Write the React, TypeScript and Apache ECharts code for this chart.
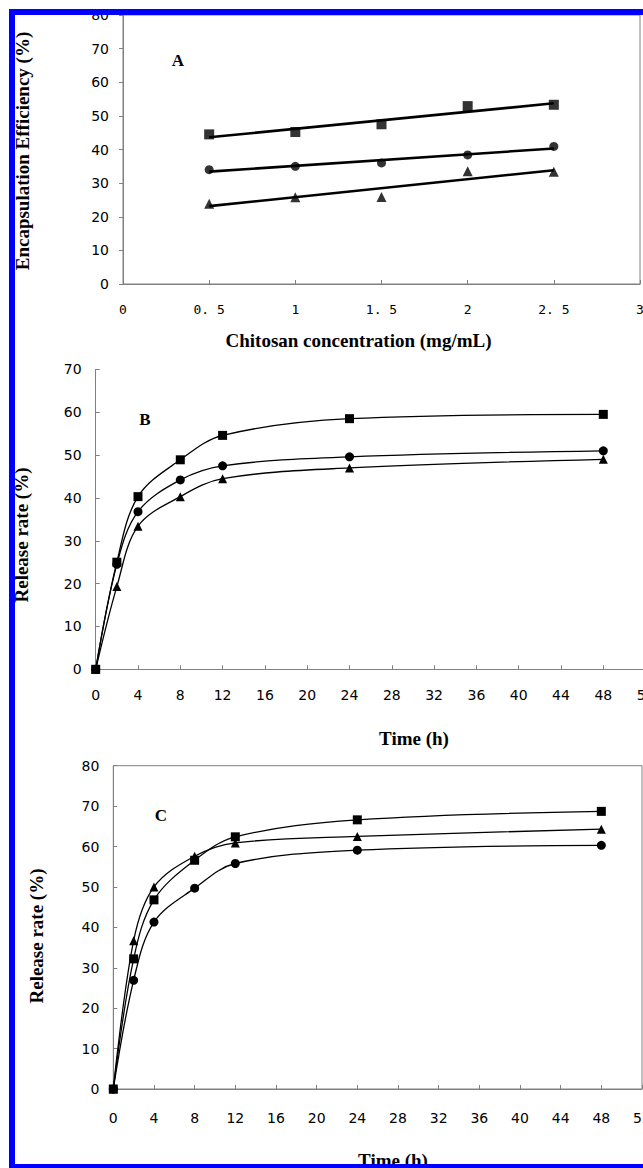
import React, { useEffect, useRef } from "react";
import * as echarts from "echarts";

// ---- Panel A: encapsulation efficiency vs chitosan concentration ----
const concentration = [0.5, 1, 1.5, 2, 2.5];
const effSquare = [44.5, 45.2, 47.5, 52.9, 53.3];
const effCircle = [34.0, 35.0, 36.0, 38.4, 40.9];
const effTriangle = [23.9, 25.8, 25.9, 33.5, 33.4];
const concTickLabels = ["0", "0. 5", "1", "1. 5", "2", "2. 5", "3"];

// ---- Panels B and C: release rate vs time ----
const timeH = [0, 2, 4, 8, 12, 24, 48];
const relBSquare = [0, 25.0, 40.3, 48.9, 54.6, 58.5, 59.5];
const relBCircle = [0, 24.5, 36.8, 44.2, 47.5, 49.6, 51.0];
const relBTriangle = [0, 19.3, 33.4, 40.3, 44.5, 47.0, 49.0];
const relCSquare = [0, 32.2, 46.8, 56.6, 62.4, 66.6, 68.7];
const relCTriangle = [0, 36.7, 50.0, 57.6, 60.9, 62.5, 64.3];
const relCCircle = [0, 26.9, 41.3, 49.7, 55.8, 59.1, 60.3];

const AXIS_GRAY = "#808080";
const TICK_FONT = "DejaVu Sans";
const SERIF = "Liberation Serif";

function zip(xs: number[], ys: number[]) {
  return xs.map((x, i) => [x, ys[i]]);
}

// least-squares trend line through the measured points (as in the source figure)
function trend(xs: number[], ys: number[]) {
  const n = xs.length;
  const mx = xs.reduce((a, b) => a + b, 0) / n;
  const my = ys.reduce((a, b) => a + b, 0) / n;
  let sxy = 0;
  let sxx = 0;
  for (let i = 0; i < n; i++) {
    sxy += (xs[i] - mx) * (ys[i] - my);
    sxx += (xs[i] - mx) * (xs[i] - mx);
  }
  const b = sxy / sxx;
  const a = my - b * mx;
  const x0 = xs[0];
  const x1 = xs[n - 1];
  return [
    [x0, a + b * x0],
    [x1, a + b * x1],
  ];
}

function valueAxisX(gridIndex: number, max: number, interval: number, margin: number, extra: any = {}) {
  return {
    type: "value",
    gridIndex,
    min: 0,
    max,
    interval,
    axisLine: { show: true, onZero: false, lineStyle: { color: AXIS_GRAY, width: 1 } },
    axisTick: { show: true, inside: true, length: 4, lineStyle: { color: AXIS_GRAY } },
    splitLine: { show: false },
    axisLabel: {
      margin,
      color: "#000",
      fontFamily: TICK_FONT,
      fontSize: 14,
      ...extra,
    },
  };
}

function valueAxisY(gridIndex: number, max: number, inside: boolean) {
  return {
    type: "value",
    gridIndex,
    min: 0,
    max,
    interval: 10,
    axisLine: { show: true, onZero: false, lineStyle: { color: AXIS_GRAY, width: 1 } },
    axisTick: { show: true, inside, length: 4, lineStyle: { color: AXIS_GRAY } },
    splitLine: { show: false },
    axisLabel: {
      margin: 14,
      color: "#000",
      fontFamily: TICK_FONT,
      fontSize: 14,
      padding: [7, 0, 0, 0],
    },
  };
}

function scatter(data: number[], symbol: string, size: number) {
  return {
    type: "scatter",
    xAxisIndex: 0,
    yAxisIndex: 0,
    symbol,
    symbolSize: size,
    itemStyle: { color: "#000" },
    data: zip(concentration, data),
    silent: true,
    z: 3,
  };
}

function trendLine(data: number[]) {
  return {
    type: "line",
    xAxisIndex: 0,
    yAxisIndex: 0,
    showSymbol: false,
    symbol: "none",
    lineStyle: { color: "#000", width: 2.6 },
    data: trend(concentration, data),
    silent: true,
    z: 2,
  };
}

function releaseLine(idx: number, data: number[], symbol: string, size: number) {
  return {
    type: "line",
    xAxisIndex: idx,
    yAxisIndex: idx,
    smooth: 0.35,
    symbol,
    symbolSize: size,
    showSymbol: true,
    lineStyle: { color: "#000", width: 1.3 },
    itemStyle: { color: "#000", borderWidth: 0 },
    data: zip(timeH, data),
    silent: true,
  };
}

function label(text: string, x: number, y: number, size: number, rotate = false) {
  return {
    type: "text",
    x,
    y,
    rotation: rotate ? Math.PI / 2 : 0,
    silent: true,
    style: {
      text,
      fill: "#000",
      fontFamily: SERIF,
      fontWeight: "bold",
      fontSize: size,
      align: "center",
      verticalAlign: "middle",
    },
  };
}

const option: any = {
  animation: false,
  backgroundColor: "#fff",
  grid: [
    { left: 123, top: 15, width: 517, height: 269, show: true, borderColor: AXIS_GRAY, borderWidth: 1, backgroundColor: "transparent", outerBoundsMode: "none", containLabel: false },
    { left: 95.7, top: 369.4, width: 549.9, height: 299.9, outerBoundsMode: "none", containLabel: false },
    { left: 113.3, top: 765.7, width: 528.7, height: 323.3, show: true, borderColor: AXIS_GRAY, borderWidth: 1, backgroundColor: "transparent", outerBoundsMode: "none", containLabel: false },
  ],
  xAxis: [
    valueAxisX(0, 3, 0.5, 19, {
      fontFamily: "DejaVu Sans Mono",
      fontSize: 13,
      formatter: (v: number) => concTickLabels[Math.round(v / 0.5)],
    }),
    valueAxisX(1, 52, 4, 19),
    valueAxisX(2, 52, 4, 22),
  ],
  yAxis: [
    valueAxisY(0, 80, false),
    valueAxisY(1, 70, true),
    valueAxisY(2, 80, true),
  ],
  series: [
    trendLine(effSquare),
    trendLine(effCircle),
    trendLine(effTriangle),
    scatter(effSquare, "rect", 10),
    scatter(effCircle, "circle", 9),
    scatter(effTriangle, "triangle", 10),

    releaseLine(1, relBCircle, "circle", 9),
    releaseLine(1, relBTriangle, "triangle", 9),
    releaseLine(1, relBSquare, "rect", 9),

    releaseLine(2, relCCircle, "circle", 9),
    releaseLine(2, relCSquare, "rect", 9),
    releaseLine(2, relCTriangle, "triangle", 9),
  ],
  graphic: [
    label("A", 178, 60, 17),
    label("B", 145, 419, 17),
    label("C", 161, 815, 17),
    label("Encapsulation Efficiency (%)", 22, 151, 19, true),
    label("Chitosan concentration (mg/mL)", 358.5, 340, 19),
    label("Release rate (%)", 21, 535, 19, true),
    label("Time (h)", 414, 738, 19),
    label("Release rate (%)", 36, 936, 19, true),
    label("Time (h)", 393, 1160, 19),
    // blue frame of the figure
    { type: "rect", z: 100, silent: true, shape: { x: 9, y: 9, width: 634, height: 6 }, style: { fill: "#0000ff" } },
    { type: "rect", z: 100, silent: true, shape: { x: 9, y: 9, width: 6, height: 1159 }, style: { fill: "#0000ff" } },
    { type: "rect", z: 100, silent: true, shape: { x: 9, y: 1164, width: 634, height: 4 }, style: { fill: "#0000ff" } },
  ],
};

export default function App() {
  const ref = useRef<HTMLDivElement>(null);
  useEffect(() => {
    if (!ref.current) return;
    const chart = echarts.init(ref.current, null, { renderer: "svg" });
    chart.setOption(option);
    return () => chart.dispose();
  }, []);
  return (
    <div
      ref={ref}
      style={{ position: "fixed", left: 0, top: 0, width: 643, height: 1168, background: "#fff" }}
    />
  );
}
